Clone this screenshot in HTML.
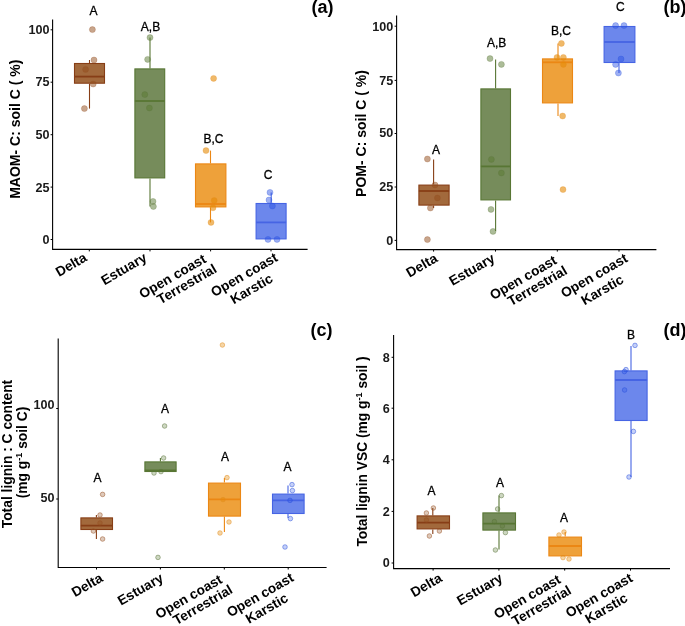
<!DOCTYPE html>
<html><head><meta charset="utf-8"><style>
html,body{margin:0;padding:0;background:#fff;}
svg{display:block;filter:blur(0.5px);}
text{font-family:"Liberation Sans", sans-serif;}
</style></head><body>
<svg width="685" height="626" viewBox="0 0 685 626" font-family='"Liberation Sans", sans-serif'>
<rect width="685" height="626" fill="#fff"/>
<path d="M52.6 19.5 V249.4 H307.6" fill="none" stroke="#000" stroke-width="1.1"/>
<line x1="50.6" y1="29.8" x2="52.6" y2="29.8" stroke="#000" stroke-width="1"/>
<text x="49.6" y="34.1" font-size="12.6" font-weight="bold" text-anchor="end" fill="#1a1a1a" >100</text>
<line x1="50.6" y1="82.2" x2="52.6" y2="82.2" stroke="#000" stroke-width="1"/>
<text x="49.6" y="86.3" font-size="12.6" font-weight="bold" text-anchor="end" fill="#1a1a1a" >75</text>
<line x1="50.6" y1="134.7" x2="52.6" y2="134.7" stroke="#000" stroke-width="1"/>
<text x="49.6" y="139.1" font-size="12.6" font-weight="bold" text-anchor="end" fill="#1a1a1a" >50</text>
<line x1="50.6" y1="187.1" x2="52.6" y2="187.1" stroke="#000" stroke-width="1"/>
<text x="49.6" y="191.5" font-size="12.6" font-weight="bold" text-anchor="end" fill="#1a1a1a" >25</text>
<line x1="50.6" y1="239.5" x2="52.6" y2="239.5" stroke="#000" stroke-width="1"/>
<text x="49.6" y="243.5" font-size="12.6" font-weight="bold" text-anchor="end" fill="#1a1a1a" >0</text>
<line x1="89.3" y1="249.4" x2="89.3" y2="251.4" stroke="#000" stroke-width="1"/>
<line x1="150" y1="249.4" x2="150" y2="251.4" stroke="#000" stroke-width="1"/>
<line x1="210.6" y1="249.4" x2="210.6" y2="251.4" stroke="#000" stroke-width="1"/>
<line x1="271" y1="249.4" x2="271" y2="251.4" stroke="#000" stroke-width="1"/>
<line x1="89.5" y1="60" x2="89.5" y2="63" stroke="rgb(135,62,22)" stroke-width="1.1"/>
<line x1="89.5" y1="83.7" x2="89.5" y2="108.6" stroke="rgb(135,62,22)" stroke-width="1.1"/>
<rect x="74.5" y="63.5" width="30" height="19.700000000000003" fill="rgb(162,105,60)" fill-opacity="1" stroke="rgb(135,62,22)" stroke-width="1.1"/>
<line x1="74.5" y1="76.6" x2="104.5" y2="76.6" stroke="rgb(135,62,22)" stroke-width="1.8"/>
<circle cx="92.4" cy="29.6" r="3" fill="rgb(145,75,25)" fill-opacity="0.5" stroke="rgb(150,80,35)" stroke-opacity="0.35" stroke-width="0.8"/>
<circle cx="94" cy="60" r="3" fill="rgb(145,75,25)" fill-opacity="0.5" stroke="rgb(150,80,35)" stroke-opacity="0.35" stroke-width="0.8"/>
<circle cx="85.6" cy="69.4" r="3" fill="rgb(145,75,25)" fill-opacity="0.5" stroke="rgb(150,80,35)" stroke-opacity="0.35" stroke-width="0.8"/>
<circle cx="93.2" cy="84" r="3" fill="rgb(145,75,25)" fill-opacity="0.5" stroke="rgb(150,80,35)" stroke-opacity="0.35" stroke-width="0.8"/>
<circle cx="84.4" cy="108.6" r="3" fill="rgb(145,75,25)" fill-opacity="0.5" stroke="rgb(150,80,35)" stroke-opacity="0.35" stroke-width="0.8"/>
<text x="93.6" y="15.2" font-size="12" font-weight="normal" text-anchor="middle" fill="#000" stroke="#000" stroke-width="0.3">A</text>
<line x1="150.0" y1="37.6" x2="150.0" y2="68.4" stroke="rgb(88,118,52)" stroke-width="1.1"/>
<line x1="150.0" y1="178.4" x2="150.0" y2="206.5" stroke="rgb(88,118,52)" stroke-width="1.1"/>
<rect x="134.9" y="68.9" width="29.799999999999983" height="109.0" fill="rgb(118,140,91)" fill-opacity="1" stroke="rgb(88,118,52)" stroke-width="1.1"/>
<line x1="134.9" y1="101" x2="164.7" y2="101" stroke="rgb(88,118,52)" stroke-width="1.8"/>
<circle cx="150" cy="37.6" r="3" fill="rgb(89,121,49)" fill-opacity="0.5" stroke="rgb(90,115,60)" stroke-opacity="0.35" stroke-width="0.8"/>
<circle cx="147.6" cy="59.4" r="3" fill="rgb(89,121,49)" fill-opacity="0.5" stroke="rgb(90,115,60)" stroke-opacity="0.35" stroke-width="0.8"/>
<circle cx="144.8" cy="94.6" r="3" fill="rgb(89,121,49)" fill-opacity="0.5" stroke="rgb(90,115,60)" stroke-opacity="0.35" stroke-width="0.8"/>
<circle cx="149.4" cy="108" r="3" fill="rgb(89,121,49)" fill-opacity="0.5" stroke="rgb(90,115,60)" stroke-opacity="0.35" stroke-width="0.8"/>
<circle cx="153" cy="201.4" r="3" fill="rgb(89,121,49)" fill-opacity="0.5" stroke="rgb(90,115,60)" stroke-opacity="0.35" stroke-width="0.8"/>
<circle cx="153.4" cy="206.5" r="3" fill="rgb(89,121,49)" fill-opacity="0.5" stroke="rgb(90,115,60)" stroke-opacity="0.35" stroke-width="0.8"/>
<text x="150.5" y="31.2" font-size="12" font-weight="normal" text-anchor="middle" fill="#000" stroke="#000" stroke-width="0.3">A,B</text>
<line x1="210.5" y1="150.6" x2="210.5" y2="163.4" stroke="rgb(235,135,20)" stroke-width="1.1"/>
<line x1="210.5" y1="207.4" x2="210.5" y2="222.4" stroke="rgb(235,135,20)" stroke-width="1.1"/>
<rect x="195.5" y="163.9" width="30.400000000000006" height="43.0" fill="rgb(238,161,58)" fill-opacity="1" stroke="rgb(235,135,20)" stroke-width="1.1"/>
<line x1="195.5" y1="204" x2="225.9" y2="204" stroke="rgb(235,135,20)" stroke-width="1.8"/>
<circle cx="206" cy="150.6" r="3" fill="rgb(230,138,5)" fill-opacity="0.6" stroke="rgb(225,140,30)" stroke-opacity="0.35" stroke-width="0.8"/>
<circle cx="214.2" cy="200.5" r="3" fill="rgb(230,138,5)" fill-opacity="0.6" stroke="rgb(225,140,30)" stroke-opacity="0.35" stroke-width="0.8"/>
<circle cx="213" cy="207.8" r="3" fill="rgb(230,138,5)" fill-opacity="0.6" stroke="rgb(225,140,30)" stroke-opacity="0.35" stroke-width="0.8"/>
<circle cx="211" cy="222.4" r="3" fill="rgb(230,138,5)" fill-opacity="0.6" stroke="rgb(225,140,30)" stroke-opacity="0.35" stroke-width="0.8"/>
<circle cx="213.6" cy="78.4" r="3" fill="rgb(230,138,5)" fill-opacity="0.6" stroke="rgb(225,140,30)" stroke-opacity="0.35" stroke-width="0.8"/>
<text x="213.4" y="142.6" font-size="12" font-weight="normal" text-anchor="middle" fill="#000" stroke="#000" stroke-width="0.3">B,C</text>
<line x1="271.2" y1="192.4" x2="271.2" y2="203" stroke="rgb(70,100,228)" stroke-width="1.1"/>
<line x1="271.2" y1="239.4" x2="271.2" y2="239.4" stroke="rgb(70,100,228)" stroke-width="1.1"/>
<rect x="256.1" y="203.5" width="30.00000000000003" height="35.400000000000006" fill="rgb(108,135,236)" fill-opacity="1" stroke="rgb(70,100,228)" stroke-width="1.1"/>
<line x1="256.1" y1="222.4" x2="286.1" y2="222.4" stroke="rgb(70,100,228)" stroke-width="1.8"/>
<circle cx="270" cy="192.4" r="3" fill="rgb(40,80,228)" fill-opacity="0.45" stroke="rgb(40,80,220)" stroke-opacity="0.35" stroke-width="0.8"/>
<circle cx="269" cy="200" r="3" fill="rgb(40,80,228)" fill-opacity="0.45" stroke="rgb(40,80,220)" stroke-opacity="0.35" stroke-width="0.8"/>
<circle cx="272.4" cy="206" r="3" fill="rgb(40,80,228)" fill-opacity="0.45" stroke="rgb(40,80,220)" stroke-opacity="0.35" stroke-width="0.8"/>
<circle cx="268" cy="239.4" r="3" fill="rgb(40,80,228)" fill-opacity="0.45" stroke="rgb(40,80,220)" stroke-opacity="0.35" stroke-width="0.8"/>
<circle cx="277" cy="239.4" r="3" fill="rgb(40,80,228)" fill-opacity="0.45" stroke="rgb(40,80,220)" stroke-opacity="0.35" stroke-width="0.8"/>
<text x="268" y="178.6" font-size="12" font-weight="normal" text-anchor="middle" fill="#000" stroke="#000" stroke-width="0.3">C</text>
<text x="311.4" y="12.6" font-size="18" font-weight="bold" text-anchor="start" fill="#000" letter-spacing="0">(a)</text>
<text transform="translate(20.3,129.2) rotate(-90)" x="0" y="0" font-size="14" font-weight="bold" text-anchor="middle" fill="#000">MAOM- C: soil C ( %)</text>
<text transform="translate(87.9,260.3) rotate(-30)" x="0" y="0" font-size="13.7" font-weight="bold" text-anchor="end" fill="#000">Delta</text>
<text transform="translate(147.9,260.3) rotate(-30)" x="0" y="0" font-size="13.7" font-weight="bold" text-anchor="end" fill="#000">Estuary</text>
<text transform="translate(207.1,261.7) rotate(-30)" x="0" y="0" font-size="13.7" font-weight="bold" text-anchor="end" fill="#000">Open coast</text>
<text transform="translate(217.7,271.5) rotate(-30)" x="0" y="0" font-size="13.7" font-weight="bold" text-anchor="end" fill="#000">Terrestrial</text>
<text transform="translate(278.8,260.1) rotate(-30)" x="0" y="0" font-size="13.7" font-weight="bold" text-anchor="end" fill="#000">Open coast</text>
<text transform="translate(273.9,281.2) rotate(-30)" x="0" y="0" font-size="13.7" font-weight="bold" text-anchor="end" fill="#000">Karstic</text>
<path d="M396.6 15.6 V249.6 H656.4" fill="none" stroke="#000" stroke-width="1.1"/>
<line x1="394.6" y1="26.2" x2="396.6" y2="26.2" stroke="#000" stroke-width="1"/>
<text x="393.2" y="30.5" font-size="12.6" font-weight="bold" text-anchor="end" fill="#1a1a1a" >100</text>
<line x1="394.6" y1="80.4" x2="396.6" y2="80.4" stroke="#000" stroke-width="1"/>
<text x="393.2" y="84.5" font-size="12.6" font-weight="bold" text-anchor="end" fill="#1a1a1a" >75</text>
<line x1="394.6" y1="133.5" x2="396.6" y2="133.5" stroke="#000" stroke-width="1"/>
<text x="393.2" y="137.1" font-size="12.6" font-weight="bold" text-anchor="end" fill="#1a1a1a" >50</text>
<line x1="394.6" y1="187" x2="396.6" y2="187" stroke="#000" stroke-width="1"/>
<text x="393.2" y="191.1" font-size="12.6" font-weight="bold" text-anchor="end" fill="#1a1a1a" >25</text>
<line x1="394.6" y1="240.4" x2="396.6" y2="240.4" stroke="#000" stroke-width="1"/>
<text x="393.2" y="244.5" font-size="12.6" font-weight="bold" text-anchor="end" fill="#1a1a1a" >0</text>
<line x1="433.6" y1="249.6" x2="433.6" y2="251.6" stroke="#000" stroke-width="1"/>
<line x1="495.5" y1="249.6" x2="495.5" y2="251.6" stroke="#000" stroke-width="1"/>
<line x1="557.3" y1="249.6" x2="557.3" y2="251.6" stroke="#000" stroke-width="1"/>
<line x1="619" y1="249.6" x2="619" y2="251.6" stroke="#000" stroke-width="1"/>
<line x1="433.6" y1="159.6" x2="433.6" y2="184.6" stroke="rgb(135,62,22)" stroke-width="1.1"/>
<line x1="433.6" y1="205.6" x2="433.6" y2="208" stroke="rgb(135,62,22)" stroke-width="1.1"/>
<rect x="418.9" y="185.1" width="30.200000000000045" height="20.0" fill="rgb(162,105,60)" fill-opacity="1" stroke="rgb(135,62,22)" stroke-width="1.1"/>
<line x1="418.9" y1="191" x2="449.1" y2="191" stroke="rgb(135,62,22)" stroke-width="1.8"/>
<circle cx="427.4" cy="159" r="3" fill="rgb(145,75,25)" fill-opacity="0.5" stroke="rgb(150,80,35)" stroke-opacity="0.35" stroke-width="0.8"/>
<circle cx="435" cy="185" r="3" fill="rgb(145,75,25)" fill-opacity="0.5" stroke="rgb(150,80,35)" stroke-opacity="0.35" stroke-width="0.8"/>
<circle cx="437.4" cy="198" r="3" fill="rgb(145,75,25)" fill-opacity="0.5" stroke="rgb(150,80,35)" stroke-opacity="0.35" stroke-width="0.8"/>
<circle cx="430.4" cy="208" r="3" fill="rgb(145,75,25)" fill-opacity="0.5" stroke="rgb(150,80,35)" stroke-opacity="0.35" stroke-width="0.8"/>
<circle cx="427.4" cy="239.6" r="3" fill="rgb(145,75,25)" fill-opacity="0.5" stroke="rgb(150,80,35)" stroke-opacity="0.35" stroke-width="0.8"/>
<text x="436" y="154.2" font-size="12" font-weight="normal" text-anchor="middle" fill="#000" stroke="#000" stroke-width="0.3">A</text>
<line x1="495.6" y1="59.4" x2="495.6" y2="88.4" stroke="rgb(88,118,52)" stroke-width="1.1"/>
<line x1="495.6" y1="200.4" x2="495.6" y2="231" stroke="rgb(88,118,52)" stroke-width="1.1"/>
<rect x="480.9" y="88.9" width="29.600000000000023" height="111.0" fill="rgb(118,140,91)" fill-opacity="1" stroke="rgb(88,118,52)" stroke-width="1.1"/>
<line x1="480.9" y1="166.4" x2="510.5" y2="166.4" stroke="rgb(88,118,52)" stroke-width="1.8"/>
<circle cx="490" cy="58.6" r="3" fill="rgb(89,121,49)" fill-opacity="0.5" stroke="rgb(90,115,60)" stroke-opacity="0.35" stroke-width="0.8"/>
<circle cx="501.4" cy="64.4" r="3" fill="rgb(89,121,49)" fill-opacity="0.5" stroke="rgb(90,115,60)" stroke-opacity="0.35" stroke-width="0.8"/>
<circle cx="491.4" cy="159.4" r="3" fill="rgb(89,121,49)" fill-opacity="0.5" stroke="rgb(90,115,60)" stroke-opacity="0.35" stroke-width="0.8"/>
<circle cx="501.4" cy="173" r="3" fill="rgb(89,121,49)" fill-opacity="0.5" stroke="rgb(90,115,60)" stroke-opacity="0.35" stroke-width="0.8"/>
<circle cx="491" cy="209.4" r="3" fill="rgb(89,121,49)" fill-opacity="0.5" stroke="rgb(90,115,60)" stroke-opacity="0.35" stroke-width="0.8"/>
<circle cx="493" cy="231.4" r="3" fill="rgb(89,121,49)" fill-opacity="0.5" stroke="rgb(90,115,60)" stroke-opacity="0.35" stroke-width="0.8"/>
<text x="496.7" y="46.6" font-size="12" font-weight="normal" text-anchor="middle" fill="#000" stroke="#000" stroke-width="0.3">A,B</text>
<line x1="558.0" y1="43.4" x2="558.0" y2="58.4" stroke="rgb(235,135,20)" stroke-width="1.1"/>
<line x1="558.0" y1="103.4" x2="558.0" y2="116" stroke="rgb(235,135,20)" stroke-width="1.1"/>
<rect x="542.5" y="58.9" width="30" height="44.00000000000001" fill="rgb(238,161,58)" fill-opacity="1" stroke="rgb(235,135,20)" stroke-width="1.1"/>
<line x1="542.5" y1="62.3" x2="572.5" y2="62.3" stroke="rgb(235,135,20)" stroke-width="1.8"/>
<circle cx="561.4" cy="43.4" r="3" fill="rgb(230,138,5)" fill-opacity="0.6" stroke="rgb(225,140,30)" stroke-opacity="0.35" stroke-width="0.8"/>
<circle cx="557" cy="57.4" r="3" fill="rgb(230,138,5)" fill-opacity="0.6" stroke="rgb(225,140,30)" stroke-opacity="0.35" stroke-width="0.8"/>
<circle cx="563.4" cy="57.4" r="3" fill="rgb(230,138,5)" fill-opacity="0.6" stroke="rgb(225,140,30)" stroke-opacity="0.35" stroke-width="0.8"/>
<circle cx="563.4" cy="64.4" r="3" fill="rgb(230,138,5)" fill-opacity="0.6" stroke="rgb(225,140,30)" stroke-opacity="0.35" stroke-width="0.8"/>
<circle cx="562.6" cy="116" r="3" fill="rgb(230,138,5)" fill-opacity="0.6" stroke="rgb(225,140,30)" stroke-opacity="0.35" stroke-width="0.8"/>
<circle cx="563" cy="189.6" r="3" fill="rgb(230,138,5)" fill-opacity="0.6" stroke="rgb(225,140,30)" stroke-opacity="0.35" stroke-width="0.8"/>
<text x="561" y="35.2" font-size="12" font-weight="normal" text-anchor="middle" fill="#000" stroke="#000" stroke-width="0.3">B,C</text>
<line x1="619.0" y1="26" x2="619.0" y2="26" stroke="rgb(70,100,228)" stroke-width="1.1"/>
<line x1="619.0" y1="63" x2="619.0" y2="73" stroke="rgb(70,100,228)" stroke-width="1.1"/>
<rect x="604.1" y="26.5" width="30.799999999999955" height="36" fill="rgb(108,135,236)" fill-opacity="1" stroke="rgb(70,100,228)" stroke-width="1.1"/>
<line x1="604.1" y1="42" x2="634.9" y2="42" stroke="rgb(70,100,228)" stroke-width="1.8"/>
<circle cx="615.6" cy="25.6" r="3" fill="rgb(40,80,228)" fill-opacity="0.45" stroke="rgb(40,80,220)" stroke-opacity="0.35" stroke-width="0.8"/>
<circle cx="624" cy="25.6" r="3" fill="rgb(40,80,228)" fill-opacity="0.45" stroke="rgb(40,80,220)" stroke-opacity="0.35" stroke-width="0.8"/>
<circle cx="621" cy="59" r="3" fill="rgb(40,80,228)" fill-opacity="0.45" stroke="rgb(40,80,220)" stroke-opacity="0.35" stroke-width="0.8"/>
<circle cx="615.6" cy="64.4" r="3" fill="rgb(40,80,228)" fill-opacity="0.45" stroke="rgb(40,80,220)" stroke-opacity="0.35" stroke-width="0.8"/>
<circle cx="618.4" cy="73" r="3" fill="rgb(40,80,228)" fill-opacity="0.45" stroke="rgb(40,80,220)" stroke-opacity="0.35" stroke-width="0.8"/>
<text x="620.4" y="11.2" font-size="12" font-weight="normal" text-anchor="middle" fill="#000" stroke="#000" stroke-width="0.3">C</text>
<text x="663.6" y="12.6" font-size="18" font-weight="bold" text-anchor="start" fill="#000" letter-spacing="0">(b)</text>
<text transform="translate(365.5,133.5) rotate(-90)" x="0" y="0" font-size="14" font-weight="bold" text-anchor="middle" fill="#000">POM- C: soil C ( %)</text>
<text transform="translate(438.5,260.9) rotate(-30)" x="0" y="0" font-size="13.7" font-weight="bold" text-anchor="end" fill="#000">Delta</text>
<text transform="translate(495.9,261.0) rotate(-30)" x="0" y="0" font-size="13.7" font-weight="bold" text-anchor="end" fill="#000">Estuary</text>
<text transform="translate(557.8,263.0) rotate(-30)" x="0" y="0" font-size="13.7" font-weight="bold" text-anchor="end" fill="#000">Open coast</text>
<text transform="translate(568.2,273.4) rotate(-30)" x="0" y="0" font-size="13.7" font-weight="bold" text-anchor="end" fill="#000">Terrestrial</text>
<text transform="translate(628.7,261.0) rotate(-30)" x="0" y="0" font-size="13.7" font-weight="bold" text-anchor="end" fill="#000">Open coast</text>
<text transform="translate(624.6,282.3) rotate(-30)" x="0" y="0" font-size="13.7" font-weight="bold" text-anchor="end" fill="#000">Karstic</text>
<path d="M58.2 338.6 V567.5 H326.6" fill="none" stroke="#000" stroke-width="1.1"/>
<line x1="56.2" y1="408.5" x2="58.2" y2="408.5" stroke="#000" stroke-width="1"/>
<text x="54.6" y="408.90000000000003" font-size="12.6" font-weight="bold" text-anchor="end" fill="#1a1a1a" >100</text>
<line x1="56.2" y1="499" x2="58.2" y2="499" stroke="#000" stroke-width="1"/>
<text x="54.6" y="502.0" font-size="12.6" font-weight="bold" text-anchor="end" fill="#1a1a1a" >50</text>
<line x1="96.5" y1="567.5" x2="96.5" y2="569.5" stroke="#000" stroke-width="1"/>
<line x1="160.4" y1="567.5" x2="160.4" y2="569.5" stroke="#000" stroke-width="1"/>
<line x1="224.3" y1="567.5" x2="224.3" y2="569.5" stroke="#000" stroke-width="1"/>
<line x1="288.2" y1="567.5" x2="288.2" y2="569.5" stroke="#000" stroke-width="1"/>
<line x1="96.4" y1="515" x2="96.4" y2="517.4" stroke="rgb(135,62,22)" stroke-width="1.1"/>
<line x1="96.4" y1="530" x2="96.4" y2="539" stroke="rgb(135,62,22)" stroke-width="1.1"/>
<rect x="80.9" y="517.9" width="31.599999999999994" height="11.600000000000023" fill="rgb(162,105,60)" fill-opacity="1" stroke="rgb(135,62,22)" stroke-width="1.1"/>
<line x1="80.9" y1="525.6" x2="112.5" y2="525.6" stroke="rgb(135,62,22)" stroke-width="1.8"/>
<circle cx="102.6" cy="494.4" r="2.3" fill="rgb(145,75,25)" fill-opacity="0.3" stroke="rgb(150,80,35)" stroke-opacity="0.55" stroke-width="0.9"/>
<circle cx="100" cy="515" r="2.3" fill="rgb(145,75,25)" fill-opacity="0.3" stroke="rgb(150,80,35)" stroke-opacity="0.55" stroke-width="0.9"/>
<circle cx="93.4" cy="531" r="2.3" fill="rgb(145,75,25)" fill-opacity="0.3" stroke="rgb(150,80,35)" stroke-opacity="0.55" stroke-width="0.9"/>
<circle cx="102.6" cy="539" r="2.3" fill="rgb(145,75,25)" fill-opacity="0.3" stroke="rgb(150,80,35)" stroke-opacity="0.55" stroke-width="0.9"/>
<circle cx="100" cy="523" r="2.3" fill="rgb(145,75,25)" fill-opacity="0.3" stroke="rgb(150,80,35)" stroke-opacity="0.55" stroke-width="0.9"/>
<text x="97.4" y="482.2" font-size="12" font-weight="normal" text-anchor="middle" fill="#000" stroke="#000" stroke-width="0.3">A</text>
<line x1="160.4" y1="458" x2="160.4" y2="461.4" stroke="rgb(88,118,52)" stroke-width="1.1"/>
<line x1="160.4" y1="472" x2="160.4" y2="472" stroke="rgb(88,118,52)" stroke-width="1.1"/>
<rect x="144.9" y="461.9" width="31.19999999999999" height="9.600000000000023" fill="rgb(118,140,91)" fill-opacity="1" stroke="rgb(88,118,52)" stroke-width="1.1"/>
<line x1="144.9" y1="470.5" x2="176.1" y2="470.5" stroke="rgb(88,118,52)" stroke-width="1.8"/>
<circle cx="163.6" cy="458" r="2.3" fill="rgb(89,121,49)" fill-opacity="0.3" stroke="rgb(90,115,60)" stroke-opacity="0.55" stroke-width="0.9"/>
<circle cx="154" cy="473" r="2.3" fill="rgb(89,121,49)" fill-opacity="0.3" stroke="rgb(90,115,60)" stroke-opacity="0.55" stroke-width="0.9"/>
<circle cx="161" cy="471.6" r="2.3" fill="rgb(89,121,49)" fill-opacity="0.3" stroke="rgb(90,115,60)" stroke-opacity="0.55" stroke-width="0.9"/>
<circle cx="164.6" cy="426" r="2.3" fill="rgb(89,121,49)" fill-opacity="0.3" stroke="rgb(90,115,60)" stroke-opacity="0.55" stroke-width="0.9"/>
<circle cx="158" cy="557.4" r="2.3" fill="rgb(89,121,49)" fill-opacity="0.3" stroke="rgb(90,115,60)" stroke-opacity="0.55" stroke-width="0.9"/>
<text x="165" y="412.8" font-size="12" font-weight="normal" text-anchor="middle" fill="#000" stroke="#000" stroke-width="0.3">A</text>
<line x1="224.4" y1="478" x2="224.4" y2="482.6" stroke="rgb(235,135,20)" stroke-width="1.1"/>
<line x1="224.4" y1="516.6" x2="224.4" y2="532" stroke="rgb(235,135,20)" stroke-width="1.1"/>
<rect x="208.5" y="483.1" width="32" height="33.0" fill="rgb(238,161,58)" fill-opacity="1" stroke="rgb(235,135,20)" stroke-width="1.1"/>
<line x1="208.5" y1="499.4" x2="240.5" y2="499.4" stroke="rgb(235,135,20)" stroke-width="1.8"/>
<circle cx="227" cy="477.6" r="2.3" fill="rgb(230,138,5)" fill-opacity="0.36" stroke="rgb(225,140,30)" stroke-opacity="0.55" stroke-width="0.9"/>
<circle cx="229" cy="522" r="2.3" fill="rgb(230,138,5)" fill-opacity="0.36" stroke="rgb(225,140,30)" stroke-opacity="0.55" stroke-width="0.9"/>
<circle cx="220" cy="533" r="2.3" fill="rgb(230,138,5)" fill-opacity="0.36" stroke="rgb(225,140,30)" stroke-opacity="0.55" stroke-width="0.9"/>
<circle cx="223" cy="499.6" r="2.3" fill="rgb(230,138,5)" fill-opacity="0.36" stroke="rgb(225,140,30)" stroke-opacity="0.55" stroke-width="0.9"/>
<circle cx="222.4" cy="345" r="2.3" fill="rgb(230,138,5)" fill-opacity="0.36" stroke="rgb(225,140,30)" stroke-opacity="0.55" stroke-width="0.9"/>
<text x="225" y="461.2" font-size="12" font-weight="normal" text-anchor="middle" fill="#000" stroke="#000" stroke-width="0.3">A</text>
<line x1="288.0" y1="485.6" x2="288.0" y2="493.6" stroke="rgb(70,100,228)" stroke-width="1.1"/>
<line x1="288.0" y1="514" x2="288.0" y2="518" stroke="rgb(70,100,228)" stroke-width="1.1"/>
<rect x="272.5" y="494.1" width="31.600000000000023" height="19.399999999999977" fill="rgb(108,135,236)" fill-opacity="1" stroke="rgb(70,100,228)" stroke-width="1.1"/>
<line x1="272.5" y1="500.4" x2="304.1" y2="500.4" stroke="rgb(70,100,228)" stroke-width="1.8"/>
<circle cx="292" cy="484.6" r="2.3" fill="rgb(40,80,228)" fill-opacity="0.27" stroke="rgb(40,80,220)" stroke-opacity="0.55" stroke-width="0.9"/>
<circle cx="292.4" cy="490.6" r="2.3" fill="rgb(40,80,228)" fill-opacity="0.27" stroke="rgb(40,80,220)" stroke-opacity="0.55" stroke-width="0.9"/>
<circle cx="290" cy="500.4" r="2.3" fill="rgb(40,80,228)" fill-opacity="0.27" stroke="rgb(40,80,220)" stroke-opacity="0.55" stroke-width="0.9"/>
<circle cx="290.4" cy="518.6" r="2.3" fill="rgb(40,80,228)" fill-opacity="0.27" stroke="rgb(40,80,220)" stroke-opacity="0.55" stroke-width="0.9"/>
<circle cx="285" cy="547" r="2.3" fill="rgb(40,80,228)" fill-opacity="0.27" stroke="rgb(40,80,220)" stroke-opacity="0.55" stroke-width="0.9"/>
<text x="287.4" y="470.59999999999997" font-size="12" font-weight="normal" text-anchor="middle" fill="#000" stroke="#000" stroke-width="0.3">A</text>
<text x="310.6" y="335.5" font-size="18" font-weight="bold" text-anchor="start" fill="#000" letter-spacing="0">(c)</text>
<text transform="translate(11.5,454) rotate(-90)" font-size="13.8" font-weight="bold" text-anchor="middle" fill="#000">Total lignin : C content</text><text transform="translate(27.3,452.5) rotate(-90)" font-size="13.8" font-weight="bold" text-anchor="middle" fill="#000">(mg g<tspan font-size="9" dy="-5">-1</tspan><tspan dy="5"> soil C)</tspan></text>
<text transform="translate(103.9,580.6) rotate(-30)" x="0" y="0" font-size="13.7" font-weight="bold" text-anchor="end" fill="#000">Delta</text>
<text transform="translate(164.4,580.6) rotate(-30)" x="0" y="0" font-size="13.7" font-weight="bold" text-anchor="end" fill="#000">Estuary</text>
<text transform="translate(223.3,582.1) rotate(-30)" x="0" y="0" font-size="13.7" font-weight="bold" text-anchor="end" fill="#000">Open coast</text>
<text transform="translate(233.6,592.4) rotate(-30)" x="0" y="0" font-size="13.7" font-weight="bold" text-anchor="end" fill="#000">Terrestrial</text>
<text transform="translate(294.7,580.3) rotate(-30)" x="0" y="0" font-size="13.7" font-weight="bold" text-anchor="end" fill="#000">Open coast</text>
<text transform="translate(289.2,600.7) rotate(-30)" x="0" y="0" font-size="13.7" font-weight="bold" text-anchor="end" fill="#000">Karstic</text>
<path d="M393.6 335 V568.6 H670" fill="none" stroke="#000" stroke-width="1.1"/>
<line x1="391.6" y1="357.3" x2="393.6" y2="357.3" stroke="#000" stroke-width="1"/>
<text x="389.8" y="361.70000000000005" font-size="12.6" font-weight="bold" text-anchor="end" fill="#1a1a1a" >8</text>
<line x1="391.6" y1="408.2" x2="393.6" y2="408.2" stroke="#000" stroke-width="1"/>
<text x="389.8" y="412.5" font-size="12.6" font-weight="bold" text-anchor="end" fill="#1a1a1a" >6</text>
<line x1="391.6" y1="459.8" x2="393.6" y2="459.8" stroke="#000" stroke-width="1"/>
<text x="389.8" y="464.1" font-size="12.6" font-weight="bold" text-anchor="end" fill="#1a1a1a" >4</text>
<line x1="391.6" y1="511.4" x2="393.6" y2="511.4" stroke="#000" stroke-width="1"/>
<text x="389.8" y="515.7" font-size="12.6" font-weight="bold" text-anchor="end" fill="#1a1a1a" >2</text>
<line x1="391.6" y1="563" x2="393.6" y2="563" stroke="#000" stroke-width="1"/>
<text x="389.8" y="567.1" font-size="12.6" font-weight="bold" text-anchor="end" fill="#1a1a1a" >0</text>
<line x1="433.1" y1="568.6" x2="433.1" y2="570.6" stroke="#000" stroke-width="1"/>
<line x1="498.9" y1="568.6" x2="498.9" y2="570.6" stroke="#000" stroke-width="1"/>
<line x1="564.7" y1="568.6" x2="564.7" y2="570.6" stroke="#000" stroke-width="1"/>
<line x1="630.5" y1="568.6" x2="630.5" y2="570.6" stroke="#000" stroke-width="1"/>
<line x1="432.8" y1="508" x2="432.8" y2="515.4" stroke="rgb(135,62,22)" stroke-width="1.1"/>
<line x1="432.8" y1="529.4" x2="432.8" y2="534" stroke="rgb(135,62,22)" stroke-width="1.1"/>
<rect x="417.1" y="515.9" width="32.39999999999998" height="13.0" fill="rgb(162,105,60)" fill-opacity="1" stroke="rgb(135,62,22)" stroke-width="1.1"/>
<line x1="417.1" y1="522.6" x2="449.5" y2="522.6" stroke="rgb(135,62,22)" stroke-width="1.8"/>
<circle cx="433.4" cy="508" r="2.3" fill="rgb(145,75,25)" fill-opacity="0.3" stroke="rgb(150,80,35)" stroke-opacity="0.55" stroke-width="0.9"/>
<circle cx="426.4" cy="513" r="2.3" fill="rgb(145,75,25)" fill-opacity="0.3" stroke="rgb(150,80,35)" stroke-opacity="0.55" stroke-width="0.9"/>
<circle cx="426.4" cy="520" r="2.3" fill="rgb(145,75,25)" fill-opacity="0.3" stroke="rgb(150,80,35)" stroke-opacity="0.55" stroke-width="0.9"/>
<circle cx="439.4" cy="531" r="2.3" fill="rgb(145,75,25)" fill-opacity="0.3" stroke="rgb(150,80,35)" stroke-opacity="0.55" stroke-width="0.9"/>
<circle cx="429.4" cy="536" r="2.3" fill="rgb(145,75,25)" fill-opacity="0.3" stroke="rgb(150,80,35)" stroke-opacity="0.55" stroke-width="0.9"/>
<text x="431.4" y="495.2" font-size="12" font-weight="normal" text-anchor="middle" fill="#000" stroke="#000" stroke-width="0.3">A</text>
<line x1="499.0" y1="495.6" x2="499.0" y2="512.4" stroke="rgb(88,118,52)" stroke-width="1.1"/>
<line x1="499.0" y1="530.6" x2="499.0" y2="549.6" stroke="rgb(88,118,52)" stroke-width="1.1"/>
<rect x="482.9" y="512.9" width="32.60000000000002" height="17.200000000000045" fill="rgb(118,140,91)" fill-opacity="1" stroke="rgb(88,118,52)" stroke-width="1.1"/>
<line x1="482.9" y1="523.6" x2="515.5" y2="523.6" stroke="rgb(88,118,52)" stroke-width="1.8"/>
<circle cx="501.4" cy="495.6" r="2.3" fill="rgb(89,121,49)" fill-opacity="0.3" stroke="rgb(90,115,60)" stroke-opacity="0.55" stroke-width="0.9"/>
<circle cx="497.6" cy="509" r="2.3" fill="rgb(89,121,49)" fill-opacity="0.3" stroke="rgb(90,115,60)" stroke-opacity="0.55" stroke-width="0.9"/>
<circle cx="494.4" cy="521.6" r="2.3" fill="rgb(89,121,49)" fill-opacity="0.3" stroke="rgb(90,115,60)" stroke-opacity="0.55" stroke-width="0.9"/>
<circle cx="502.4" cy="526" r="2.3" fill="rgb(89,121,49)" fill-opacity="0.3" stroke="rgb(90,115,60)" stroke-opacity="0.55" stroke-width="0.9"/>
<circle cx="505.4" cy="532.6" r="2.3" fill="rgb(89,121,49)" fill-opacity="0.3" stroke="rgb(90,115,60)" stroke-opacity="0.55" stroke-width="0.9"/>
<circle cx="495.4" cy="550" r="2.3" fill="rgb(89,121,49)" fill-opacity="0.3" stroke="rgb(90,115,60)" stroke-opacity="0.55" stroke-width="0.9"/>
<text x="500" y="487.2" font-size="12" font-weight="normal" text-anchor="middle" fill="#000" stroke="#000" stroke-width="0.3">A</text>
<line x1="565.2" y1="532" x2="565.2" y2="536.6" stroke="rgb(235,135,20)" stroke-width="1.1"/>
<line x1="565.2" y1="556.4" x2="565.2" y2="556.4" stroke="rgb(235,135,20)" stroke-width="1.1"/>
<rect x="548.9" y="537.1" width="32.60000000000002" height="18.799999999999955" fill="rgb(238,161,58)" fill-opacity="1" stroke="rgb(235,135,20)" stroke-width="1.1"/>
<line x1="548.9" y1="546" x2="581.5" y2="546" stroke="rgb(235,135,20)" stroke-width="1.8"/>
<circle cx="564" cy="532" r="2.3" fill="rgb(230,138,5)" fill-opacity="0.36" stroke="rgb(225,140,30)" stroke-opacity="0.55" stroke-width="0.9"/>
<circle cx="559" cy="535" r="2.3" fill="rgb(230,138,5)" fill-opacity="0.36" stroke="rgb(225,140,30)" stroke-opacity="0.55" stroke-width="0.9"/>
<circle cx="563" cy="557.6" r="2.3" fill="rgb(230,138,5)" fill-opacity="0.36" stroke="rgb(225,140,30)" stroke-opacity="0.55" stroke-width="0.9"/>
<circle cx="569" cy="559" r="2.3" fill="rgb(230,138,5)" fill-opacity="0.36" stroke="rgb(225,140,30)" stroke-opacity="0.55" stroke-width="0.9"/>
<text x="564" y="521.5" font-size="12" font-weight="normal" text-anchor="middle" fill="#000" stroke="#000" stroke-width="0.3">A</text>
<line x1="631.0" y1="346" x2="631.0" y2="370.4" stroke="rgb(70,100,228)" stroke-width="1.1"/>
<line x1="631.0" y1="421" x2="631.0" y2="477" stroke="rgb(70,100,228)" stroke-width="1.1"/>
<rect x="615.1" y="370.9" width="32.0" height="49.60000000000002" fill="rgb(108,135,236)" fill-opacity="1" stroke="rgb(70,100,228)" stroke-width="1.1"/>
<line x1="615.1" y1="380" x2="647.1" y2="380" stroke="rgb(70,100,228)" stroke-width="1.8"/>
<circle cx="635" cy="345.4" r="2.3" fill="rgb(40,80,228)" fill-opacity="0.27" stroke="rgb(40,80,220)" stroke-opacity="0.55" stroke-width="0.9"/>
<circle cx="626" cy="369.6" r="2.3" fill="rgb(40,80,228)" fill-opacity="0.27" stroke="rgb(40,80,220)" stroke-opacity="0.55" stroke-width="0.9"/>
<circle cx="624.4" cy="371.6" r="2.3" fill="rgb(40,80,228)" fill-opacity="0.27" stroke="rgb(40,80,220)" stroke-opacity="0.55" stroke-width="0.9"/>
<circle cx="624.6" cy="390" r="2.3" fill="rgb(40,80,228)" fill-opacity="0.27" stroke="rgb(40,80,220)" stroke-opacity="0.55" stroke-width="0.9"/>
<circle cx="633.4" cy="431.4" r="2.3" fill="rgb(40,80,228)" fill-opacity="0.27" stroke="rgb(40,80,220)" stroke-opacity="0.55" stroke-width="0.9"/>
<circle cx="629" cy="477" r="2.3" fill="rgb(40,80,228)" fill-opacity="0.27" stroke="rgb(40,80,220)" stroke-opacity="0.55" stroke-width="0.9"/>
<text x="631" y="339.2" font-size="12" font-weight="normal" text-anchor="middle" fill="#000" stroke="#000" stroke-width="0.3">B</text>
<text x="663.6" y="336" font-size="18" font-weight="bold" text-anchor="start" fill="#000" letter-spacing="0">(d)</text>
<text transform="translate(366.5,451.5) rotate(-90)" font-size="13.8" font-weight="bold" text-anchor="middle" fill="#000">Total lignin VSC (mg g<tspan font-size="9" dy="-5">-1</tspan><tspan dy="5"> soil )</tspan></text>
<text transform="translate(443,580.7) rotate(-30)" x="0" y="0" font-size="13.7" font-weight="bold" text-anchor="end" fill="#000">Delta</text>
<text transform="translate(503.7,580.6) rotate(-30)" x="0" y="0" font-size="13.7" font-weight="bold" text-anchor="end" fill="#000">Estuary</text>
<text transform="translate(561.8,582.1) rotate(-30)" x="0" y="0" font-size="13.7" font-weight="bold" text-anchor="end" fill="#000">Open coast</text>
<text transform="translate(572.3,593.0) rotate(-30)" x="0" y="0" font-size="13.7" font-weight="bold" text-anchor="end" fill="#000">Terrestrial</text>
<text transform="translate(633.6,580.7) rotate(-30)" x="0" y="0" font-size="13.7" font-weight="bold" text-anchor="end" fill="#000">Open coast</text>
<text transform="translate(628.7,600.7) rotate(-30)" x="0" y="0" font-size="13.7" font-weight="bold" text-anchor="end" fill="#000">Karstic</text>
</svg>
</body></html>
